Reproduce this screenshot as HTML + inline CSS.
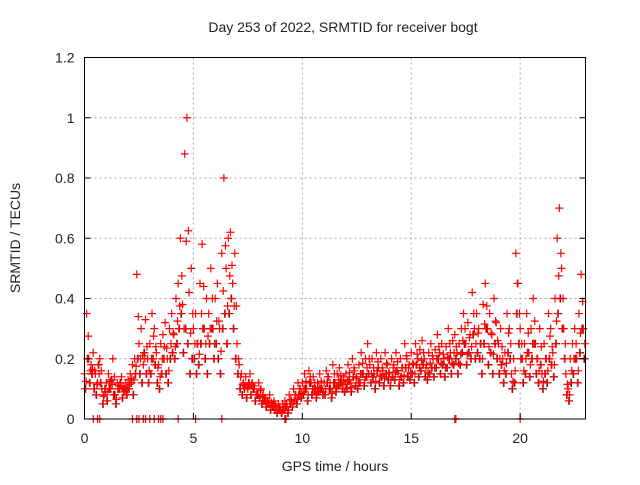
<!DOCTYPE html>
<html><head><meta charset="utf-8"><style>
html,body{margin:0;padding:0;background:#fff;}
svg text{font-family:"Liberation Sans",sans-serif;font-size:14px;fill:#222;}
</style></head><body>
<svg id="chart" width="640" height="480" viewBox="0 0 640 480" xmlns="http://www.w3.org/2000/svg">
<rect width="640" height="480" fill="#fff"/>
<g id="grid"></g>
<g id="pts"></g>
<rect x="84.5" y="57.5" width="501" height="361.5" fill="none" stroke="#000" stroke-width="1"/>
<g id="ticks"></g>
<text x="343" y="32" text-anchor="middle">Day 253 of 2022, SRMTID for receiver bogt</text>
<text x="335" y="471" text-anchor="middle">GPS time / hours</text>
<text x="20" y="238" text-anchor="middle" transform="rotate(-90 20 238)">SRMTID / TECUs</text>
</svg>
<script>
const xTicks=[0,5,10,15,20];
const yTicks=[0,0.2,0.4,0.6,0.8,1,1.2];
const yTickLabels=["0","0.2","0.4","0.6","0.8","1","1.2"];
const stepHours=0.1;
const upperVals=[0.15,0.35,0.2,0.18,0.22,0.15,0.12,0.2,0.1,0.08,
0.12,0.15,0.1,0.2,0.08,0.12,0.1,0.14,0.09,0.12,
0.13,0.15,0.18,0.2,0.48,0.25,0.3,0.18,0.33,0.2,
0.25,0.35,0.3,0.22,0.18,0.25,0.28,0.32,0.2,0.3,
0.35,0.28,0.4,0.45,0.6,0.38,0.88,1.0,0.42,0.5,
0.3,0.35,0.25,0.45,0.58,0.3,0.4,0.35,0.5,0.3,
0.4,0.45,0.3,0.55,0.8,0.5,0.6,0.62,0.45,0.55,
0.25,0.18,0.15,0.12,0.14,0.1,0.15,0.12,0.1,0.08,
0.12,0.1,0.08,0.07,0.06,0.08,0.05,0.06,0.04,0.05,
0.03,0.05,0.06,0.04,0.08,0.06,0.1,0.08,0.12,0.1,
0.12,0.15,0.1,0.16,0.12,0.14,0.1,0.12,0.15,0.1,
0.12,0.16,0.14,0.1,0.18,0.12,0.15,0.17,0.13,0.14,
0.15,0.18,0.12,0.2,0.16,0.14,0.18,0.22,0.15,0.2,
0.25,0.18,0.2,0.15,0.22,0.17,0.2,0.16,0.22,0.18,
0.15,0.2,0.18,0.22,0.15,0.2,0.17,0.25,0.2,0.18,
0.22,0.18,0.25,0.2,0.23,0.26,0.2,0.18,0.22,0.25,
0.2,0.23,0.28,0.22,0.25,0.2,0.24,0.3,0.22,0.26,
0.28,0.22,0.25,0.3,0.35,0.25,0.32,0.28,0.42,0.3,
0.35,0.3,0.25,0.38,0.45,0.3,0.35,0.28,0.4,0.32,
0.25,0.3,0.2,0.22,0.35,0.3,0.15,0.2,0.55,0.45,
0.3,0.2,0.25,0.35,0.22,0.3,0.4,0.25,0.2,0.3,
0.15,0.25,0.2,0.35,0.3,0.22,0.4,0.6,0.7,0.5,
0.3,0.15,0.1,0.2,0.25,0.3,0.2,0.35,0.48,0.3];
const lowerVals=[0.1,0.2,0.12,0.15,0.1,0.08,0.18,0.12,0.05,0.1,
0.06,0.1,0.13,0.08,0.05,0.1,0.12,0.07,0.1,0.08,
0.1,0.12,0.08,0.15,0.2,0.15,0.12,0.22,0.15,0.12,
0.15,0.2,0.18,0.12,0.1,0.15,0.2,0.15,0.12,0.2,
0.22,0.2,0.25,0.3,0.35,0.22,0.3,0.25,0.15,0.2,
0.2,0.15,0.18,0.25,0.3,0.2,0.15,0.25,0.3,0.2,
0.25,0.2,0.15,0.3,0.35,0.25,0.35,0.4,0.3,0.2,
0.15,0.1,0.08,0.1,0.07,0.12,0.08,0.1,0.06,0.08,
0.07,0.05,0.06,0.04,0.05,0.03,0.04,0.03,0.02,0.03,
0.02,0.03,0.04,0.02,0.05,0.04,0.06,0.05,0.08,0.07,
0.08,0.1,0.06,0.12,0.08,0.1,0.07,0.09,0.1,0.08,
0.08,0.12,0.1,0.07,0.12,0.09,0.11,0.12,0.1,0.09,
0.1,0.13,0.09,0.14,0.11,0.1,0.12,0.15,0.11,0.14,
0.15,0.12,0.14,0.1,0.16,0.12,0.14,0.11,0.15,0.13,
0.11,0.14,0.13,0.16,0.11,0.14,0.12,0.17,0.14,0.13,
0.15,0.12,0.18,0.14,0.16,0.18,0.14,0.13,0.15,0.17,
0.14,0.17,0.2,0.15,0.18,0.14,0.17,0.2,0.15,0.18,
0.2,0.15,0.18,0.22,0.25,0.18,0.22,0.2,0.28,0.2,
0.22,0.2,0.15,0.25,0.3,0.18,0.22,0.15,0.25,0.2,
0.15,0.18,0.12,0.15,0.22,0.2,0.1,0.12,0.35,0.25,
0.2,0.12,0.15,0.22,0.14,0.2,0.25,0.15,0.12,0.18,
0.1,0.15,0.12,0.2,0.18,0.14,0.25,0.35,0.4,0.3,
0.2,0.08,0.06,0.12,0.15,0.2,0.12,0.22,0.3,0.2];
const zeroHours=[0.4,0.6,0.7,2.2,2.4,2.5,2.7,2.8,3.0,3.2,3.4,3.5,3.6,4.3,5.1,6.3,9.2,9.25,17.0,17.05,20.0];
const xMin=0,xMax=23,yMin=0,yMax=1.2;
const L=84.5,R=585.5,T=57.5,B=419;
const sx=v=>L+(v-xMin)/(xMax-xMin)*(R-L);
const sy=v=>B-(v-yMin)/(yMax-yMin)*(B-T);
const NS="http://www.w3.org/2000/svg";
const grid=document.getElementById('grid'),ticks=document.getElementById('ticks'),pts=document.getElementById('pts');
function mk(tag,attrs,parent){const e=document.createElementNS(NS,tag);for(const k in attrs)e.setAttribute(k,attrs[k]);parent.appendChild(e);return e;}
xTicks.forEach(v=>{const x=sx(v);
 if(v>xMin){const g=mk('line',{x1:x,x2:x,y1:T,y2:B,stroke:'#aaa','stroke-dasharray':'2,3'},grid);
 
 }
 const t=mk('line',{x1:x,x2:x,y1:B,y2:B-6,stroke:'#000'},ticks);
 
 
 const lb=mk('text',{x:x,y:B+24,'text-anchor':'middle'},ticks);lb.textContent=v;
 
 
});
yTicks.forEach((v,i)=>{const y=sy(v);
 if(v>yMin&&v<yMax){const g=mk('line',{x1:L,x2:R,y1:y,y2:y,stroke:'#aaa','stroke-dasharray':'2,3'},grid);
 
 }
 const t=mk('line',{x1:L,x2:L+6,y1:y,y2:y,stroke:'#000'},ticks);
 
 
 const t2=mk('line',{x1:R,x2:R-6,y1:y,y2:y,stroke:'#000'},ticks);
 
 
 const lb=mk('text',{x:L-10,y:y+5,'text-anchor':'end'},ticks);lb.textContent=yTickLabels[i];
 
 
});
function plus(h,v,color,name){const x=sx(h),y=sy(v);
 const p=mk('path',{d:`M${x-4},${y}H${x+4}M${x},${y-4}V${y+4}`,stroke:color,'stroke-width':1.2,fill:'none'},pts);
 
 }
lowerVals.forEach((v,i)=>plus(i*stepHours+0.05,v,'#000','black-point'));
upperVals.forEach((v,i)=>plus(i*stepHours,v,'#f00','red-point'));
lowerVals.forEach((v,i)=>plus(i*stepHours+0.03,v,'#f00','red-point'));
upperVals.forEach((v,i)=>{const w=lowerVals[i];plus(i*stepHours+0.07,(v+w)/2,'#f00','red-point');});
zeroHours.forEach(h=>plus(h,0,'#f00','zero-point'));
</script>
</body></html>
